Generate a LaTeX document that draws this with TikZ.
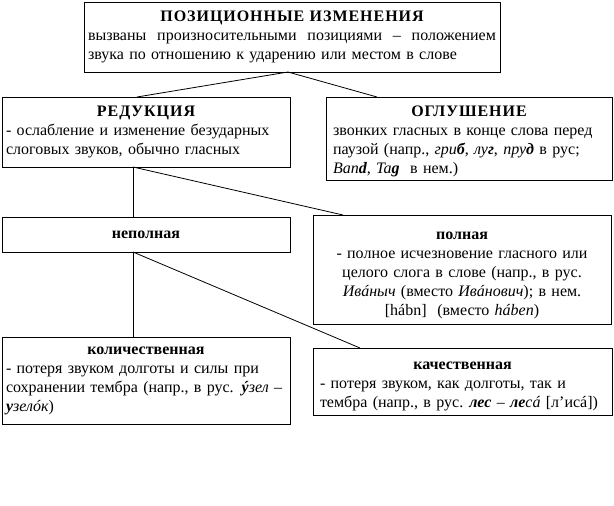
\documentclass[tikz,border=0pt]{standalone}
\usepackage{fontspec}
\setmainfont{Liberation Serif}
\newcommand\ttl[1]{{\addfontfeatures{LetterSpace=6}\bfseries #1}}
\tikzset{
  box/.style={draw, line width=0.8pt, anchor=north west, inner xsep=4pt, inner ysep=0pt,
    outer sep=0pt, font=\fontsize{16}{19}\selectfont},
  conn/.style={line width=0.8pt}
}
\begin{document}
\begin{tikzpicture}[x=1pt,y=-1pt]
\useasboundingbox (0,0) rectangle (614,506);

\node[box, text width=408pt, minimum width=416pt, minimum height=70pt] (top) at (84,2)
{{\centering\ttl{ПОЗИЦИОННЫЕ ИЗМЕНЕНИЯ}\par}
вызваны\hfill произносительными\hfill позициями\hfill –\hfill положением\\
звука по отношению к ударению или местом в слове};

\node[box, text width=280pt, minimum width=288pt, minimum height=70pt] (red) at (2,97)
{{\centering\ttl{РЕДУКЦИЯ}\par}
\raggedright - ослабление и изменение безударных\\ слоговых звуков, обычно гласных};

\node[box, inner xsep=7pt, text width=272pt, minimum width=286pt, minimum height=83pt] (ogl) at (326,97)
{{\centering\rule{0pt}{16pt}\ttl{ОГЛУШЕНИЕ}\par}
\raggedright звонких гласных в конце слова перед\\
паузой (напр., \textit{гри\textbf{б}}, \textit{лу\textbf{г}}, \textit{пру\textbf{д}} в рус;\\
\textit{Ban\textbf{d}}, \textit{Ta\textbf{g}}\ \ в нем.)};

\node[box, text width=280pt, minimum width=288pt, minimum height=35pt] (nep) at (2,217)
{\centering\textbf{неполная}\par};

\node[box, text width=290pt, minimum width=298pt, minimum height=109pt] (pol) at (313,215)
{\centering\rule{0pt}{20pt}\textbf{полная}\\
- полное исчезновение гласного или\\
целого слога в слове (напр., в рус.\\
\textit{Ивáныч} (вместо \textit{Ивáнович}); в нем.\\
{[}hábn{]}\ \ (вместо \textit{háben})\par};

\node[box, text width=280pt, minimum width=288pt, minimum height=87pt] (kol) at (2,337)
{{\centering\textbf{количественная}\par}
\raggedright - потеря звуком долготы и силы при\\
сохранении тембра (напр., в рус. \textit{\textbf{ý}зел} –\\
\textit{\textbf{у}зелóк})};

\node[box, inner xsep=7pt, text width=285pt, minimum width=299pt, minimum height=67pt] (kach) at (313,348)
{{\centering\rule{0pt}{18pt}\textbf{качественная}\par}
\raggedright - потеря звуком, как долготы, так и\\
тембра (напр., в рус.\hspace{-2pt} \textit{\textbf{лес}} – \textit{\textbf{ле}сá} [л’исá])};

\coordinate (apex) at ([xshift=204pt]top.south west);
\draw[conn] ([xshift=135pt]red.north west) -- (apex) -- ([xshift=51pt]ogl.north west);
\draw[conn] ([xshift=131pt]red.south west) -- ([xshift=131pt]nep.north west);
\draw[conn] ([xshift=131pt]red.south west) -- ([xshift=30pt]pol.north west);
\draw[conn] ([xshift=131pt]nep.south west) -- ([xshift=131pt]kol.north west);
\draw[conn] ([xshift=131pt]nep.south west) -- ([xshift=47pt]kach.north west);
\end{tikzpicture}
\end{document}
